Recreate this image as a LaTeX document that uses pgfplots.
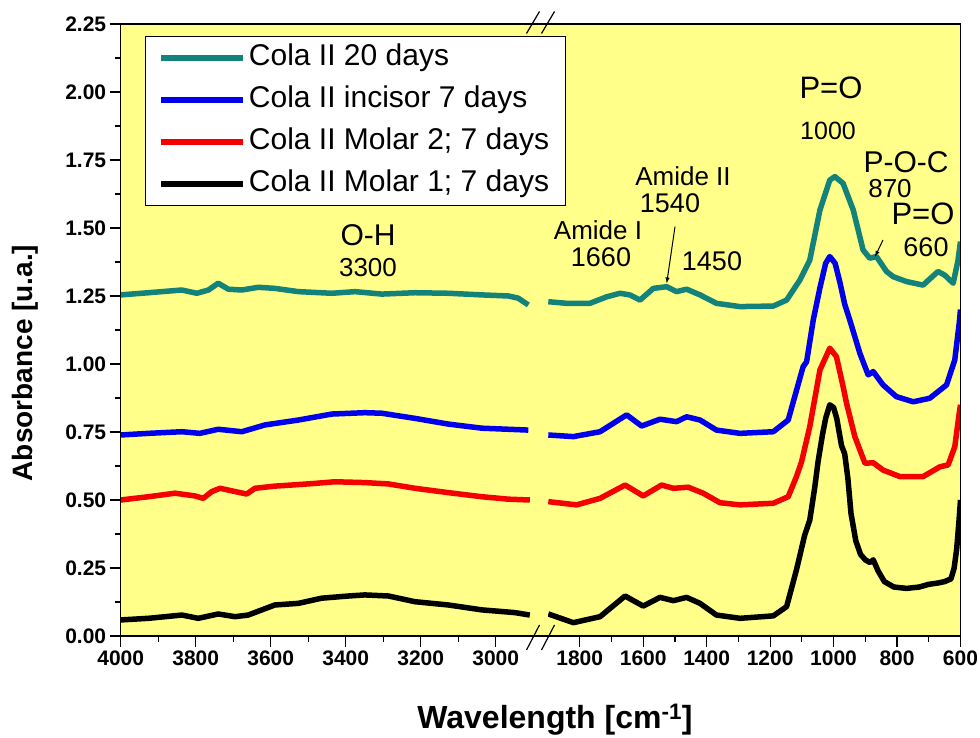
\documentclass[border=0pt]{standalone}
\usepackage{fontspec}
\setmainfont{Liberation Sans}
\usepackage{pgfplots}
\pgfplotsset{compat=1.18}
\definecolor{bgyel}{RGB}{255,255,138}
\definecolor{cteal}{RGB}{18,130,122}
\definecolor{cblue}{RGB}{0,0,235}
\definecolor{cred}{RGB}{245,0,0}
\newcommand{\fs}[1]{\fontsize{#1}{#1}\selectfont}

\pgfplotsset{
  spec/.style={
    scale only axis, height=612pt, width=412.5pt, anchor=south west,
    ymin=0, ymax=2.25, x dir=reverse,
    axis line style={draw=none},
    tick align=outside, xtick pos=lower, ytick pos=left,
    major tick length=11pt, minor tick length=6pt,
    every tick/.style={black, line width=1.2pt},
    minor x tick num=1,
    ticklabel style={font=\fs{21}\bfseries},
    /pgf/number format/assume math mode=true,
    /pgf/number format/1000 sep={},
    every axis plot/.append style={line width=5.5pt, line join=round},
  },
}

\begin{document}
\begin{tikzpicture}[x=1pt, y=1pt]
\useasboundingbox (0,0) rectangle (980,738);
\fill[bgyel] (120.7,102) rectangle (960.7,714);

% left part 4000-2900
\begin{axis}[spec, at={(120.7pt,102pt)}, xmin=2900, xmax=4000,
  xtick={3000,3200,...,4000},
  ytick={0,0.25,...,2.25}, minor y tick num=1,
  yticklabel style={/pgf/number format/.cd, fixed, fixed zerofill, precision=2},
  legend cell align=left,
  legend style={at={(axis description cs:0.059,0.980)}, anchor=north west,
    font=\fs{30}, draw=black, line width=0.8pt, fill=white,
    inner xsep=13pt, inner ysep=4pt, row sep=7pt,
    nodes={inner sep=3pt, text height=22pt, text depth=7pt},
    /tikz/every even column/.append style={column sep=5pt}},
  legend image code/.code={\draw[#1, line width=5.5pt] (0pt,0pt) -- (82pt,0pt);},
]
\addplot[cteal] coordinates {
(4000,1.254) (3926,1.262) (3837,1.272) (3797,1.260) (3766,1.272) (3740,1.297)
(3713,1.275) (3677,1.272) (3633,1.282) (3589,1.278) (3526,1.266) (3437,1.260)
(3375,1.266) (3304,1.257) (3215,1.262) (3126,1.260) (3037,1.254) (2966,1.250)
(2940,1.242) (2913,1.217)};
\addplot[cblue] coordinates {
(4000,0.739) (3926,0.745) (3837,0.751) (3789,0.745) (3740,0.760) (3677,0.751)
(3615,0.776) (3526,0.794) (3437,0.816) (3349,0.821) (3304,0.819) (3215,0.800)
(3126,0.779) (3037,0.764) (2913,0.757)};
\addplot[cred] coordinates {
(4000,0.500) (3926,0.512) (3855,0.525) (3802,0.515) (3780,0.506) (3757,0.531)
(3735,0.543) (3695,0.531) (3664,0.522) (3642,0.543) (3589,0.551) (3544,0.555)
(3482,0.561) (3429,0.567) (3349,0.564) (3286,0.559) (3215,0.543) (3126,0.527)
(3037,0.512) (2966,0.503) (2909,0.500)};
\addplot[black] coordinates {
(4000,0.059) (3926,0.065) (3837,0.077) (3793,0.065) (3740,0.081) (3695,0.071)
(3660,0.077) (3589,0.114) (3526,0.120) (3464,0.139) (3393,0.147) (3349,0.151)
(3286,0.147) (3215,0.126) (3126,0.114) (3037,0.096) (2949,0.086) (2909,0.077)};
\legend{Cola II 20 days, Cola II incisor 7 days, Cola II Molar 2; 7 days, Cola II Molar 1; 7 days}
\end{axis}

% right part 1900-600
\begin{axis}[spec, at={(548pt,102pt)}, xmin=600, xmax=1900,
  xtick={600,800,...,1800}, ytick=\empty]
\addplot[cteal] coordinates {
(1899,1.229) (1841,1.223) (1768,1.223) (1715,1.247) (1673,1.260) (1642,1.254)
(1610,1.235) (1568,1.278) (1526,1.284) (1495,1.266) (1463,1.275) (1421,1.254)
(1369,1.223) (1295,1.211) (1190,1.213) (1148,1.235) (1106,1.309) (1075,1.382)
(1043,1.566) (1012,1.676) (996,1.689) (970,1.664) (938,1.566) (907,1.419)
(886,1.389) (865,1.395) (833,1.340) (812,1.321) (770,1.303) (718,1.290)
(671,1.340) (650,1.327) (623,1.297) (608,1.380) (600,1.450)};
\addplot[cblue] coordinates {
(1899,0.739) (1820,0.733) (1736,0.751) (1652,0.813) (1605,0.772) (1547,0.797)
(1495,0.788) (1463,0.806) (1421,0.794) (1369,0.757) (1295,0.745) (1190,0.751)
(1143,0.794) (1096,0.990) (1085,1.008) (1064,1.162) (1043,1.280) (1025,1.370)
(1012,1.395) (995,1.370) (980,1.300) (965,1.220) (949,1.162) (917,1.039)
(891,0.960) (875,0.972) (844,0.923) (802,0.880) (749,0.861) (697,0.874)
(644,0.923) (618,1.015) (604,1.150) (600,1.200)};
\addplot[cred] coordinates {
(1899,0.494) (1810,0.482) (1736,0.506) (1657,0.555) (1600,0.515) (1542,0.555)
(1505,0.543) (1458,0.547) (1411,0.525) (1358,0.490) (1295,0.482) (1190,0.488)
(1143,0.512) (1117,0.586) (1101,0.640) (1075,0.770)
(1043,0.978) (1012,1.058) (991,1.027) (970,0.917) (959,0.855) (933,0.733)
(901,0.635) (875,0.637) (844,0.610) (791,0.586) (718,0.586) (665,0.622)
(639,0.629) (618,0.696) (604,0.819) (600,0.850)};
\addplot[black] coordinates {
(1899,0.081) (1820,0.049) (1736,0.071) (1657,0.147) (1600,0.110) (1547,0.142)
(1505,0.130) (1463,0.142) (1421,0.120) (1369,0.077) (1295,0.065) (1190,0.074)
(1148,0.108) (1117,0.243) (1091,0.371) (1075,0.426) (1059,0.549) (1049,0.640)
(1035,0.740) (1025,0.800) (1012,0.850)
(1000,0.840) (990,0.800) (975,0.700) (965,0.670) (955,0.580) (945,0.450)
(930,0.350) (915,0.300) (900,0.280) (885,0.270) (875,0.280) (860,0.240)
(840,0.200) (810,0.180) (770,0.175) (730,0.180) (700,0.190) (670,0.195)
(650,0.200) (630,0.210) (620,0.250) (612,0.320) (605,0.420) (600,0.500)};
\end{axis}

% frame and axis break
\draw[line width=1.2pt] (120.7,102) rectangle (960.7,714);
\foreach \xx in {533,548} {
  \draw[line width=1.2pt] (\xx-6.5,88) -- (\xx+6.5,113);
  \draw[line width=1.2pt] (\xx-6.5,704.5) -- (\xx+6.5,726.5);
}

% axis titles
\node[rotate=90, font=\fs{28}\bfseries] at (25,375) {Absorbance [u.a.]};
\node[font=\fs{32}\bfseries] at (555,18) {Wavelength [cm\textsuperscript{-1}]};

% band labels
\node[font=\fs{30}] at (368,503) {O-H};
\node[font=\fs{26}] at (368,470) {3300};
\node[font=\fs{26}] at (598,508) {Amide I};
\node[font=\fs{27}] at (601,480.5) {1660};
\node[font=\fs{26}] at (683,562) {Amide II};
\node[font=\fs{27}] at (670,535) {1540};
\node[font=\fs{27}] at (712,476.3) {1450};
\draw[-latex, line width=1pt] (675,511.3) -- (666.7,454.7);
\node[font=\fs{31}] at (831,650) {P=O};
\node[font=\fs{25}] at (828,607) {1000};
\node[font=\fs{30}] at (906,576) {P-O-C};
\node[font=\fs{26}] at (890,549) {870};
\draw[-latex, line width=1pt] (883,498) -- (875,481.3);
\node[font=\fs{31}] at (923,524) {P=O};
\node[font=\fs{27}] at (926,491) {660};
\end{tikzpicture}
\end{document}
